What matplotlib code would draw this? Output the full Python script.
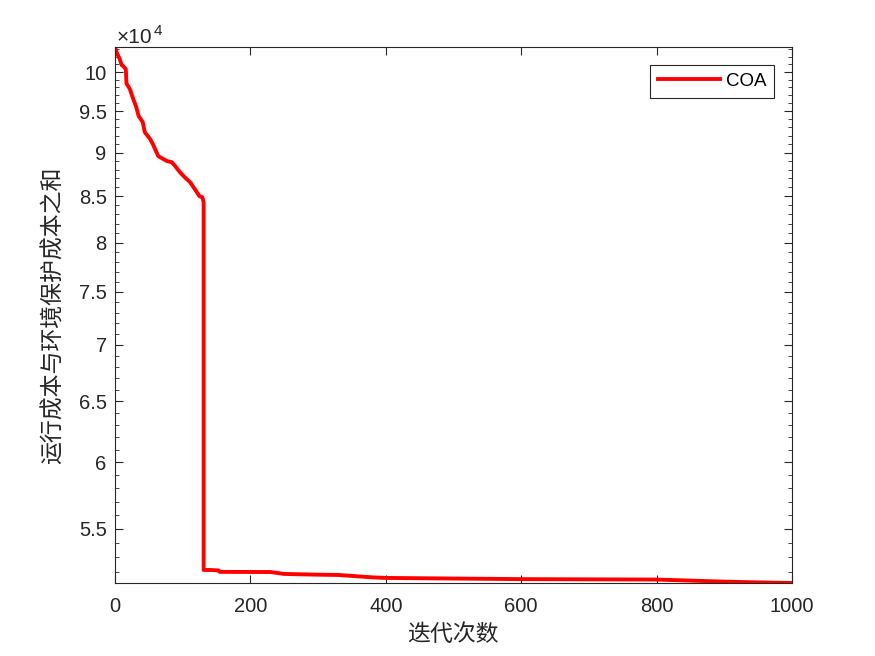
import matplotlib.pyplot as plt
from matplotlib.ticker import FixedLocator, MultipleLocator, FuncFormatter, NullFormatter

plt.rcParams['font.family'] = ['Liberation Sans', 'Noto Sans CJK SC', 'DejaVu Sans']

# iteration / cost
iters = [0, 3, 7, 10, 12, 16, 17, 22, 27, 31, 35, 41, 44, 52, 56, 64, 77, 84,
         89, 96, 103, 111, 118, 125, 129, 131, 131, 140, 153, 155, 230, 250,
         300, 330, 380, 400, 600, 800, 850, 900, 950, 1000]
cost = [103330, 102500, 101720, 100900, 100790, 100390, 98500, 97800, 96520,
        95640, 94400, 93660, 92440, 91590, 90990, 89570, 88990, 88870, 88410,
        87710, 87140, 86570, 85780, 84990, 84900, 84330, 52120, 52120, 52090,
        51990, 51980, 51850, 51800, 51780, 51620, 51580, 51500, 51470, 51400,
        51330, 51280, 51240]

major_y = [55000, 60000, 65000, 70000, 75000, 80000, 85000, 90000, 95000, 100000]
x_ticks = [0, 200, 400, 600, 800, 1000]

ax_col = '#262626'

fig = plt.figure(figsize=(8.75, 6.56), dpi=100)
ax = fig.add_axes([0.1314, 0.1113, 0.7737, 0.8171])
ax.plot(iters, cost, color='red', linewidth=2.8, label='COA')
ax.set_yscale('log')
ax.set_xlim(0, 1000)
ax.set_ylim(min(cost), max(cost))

ax.yaxis.set_major_locator(FixedLocator(major_y))
ax.yaxis.set_major_formatter(FuncFormatter(lambda v, p: '%g' % (v / 1e4)))
ax.yaxis.set_minor_locator(MultipleLocator(1000))
ax.yaxis.set_minor_formatter(NullFormatter())
ax.set_xticks(x_ticks)

ax.tick_params(which='both', direction='in', top=True, right=True,
               colors=ax_col, labelsize=14.5, labelcolor=ax_col)
ax.tick_params(which='major', length=6, width=0.8)
ax.tick_params(axis='x', which='major', pad=10)
ax.tick_params(axis='y', which='major', pad=6)
ax.tick_params(which='minor', length=3, width=0.6)
for s in ax.spines.values():
    s.set_color(ax_col)
    s.set_linewidth(0.8)

ax.set_xlabel('迭代次数', fontsize=16.5, family=['Noto Sans CJK SC'], color=ax_col)
ax.set_ylabel('运行成本与环境保护成本之和', fontsize=16.5,
              family=['Noto Sans CJK SC'], color=ax_col)
ax.xaxis.set_label_coords(0.499, -0.075)
ax.yaxis.set_label_coords(-0.074, 0.5)

# exponent label above the y axis
fig.text(0.133, 0.9345, '×10', fontsize=15, color=ax_col, ha='left', va='baseline')
fig.text(0.176, 0.946, '4', fontsize=11, color=ax_col, ha='left', va='baseline')

leg = ax.legend(loc='upper right', fontsize=13.5, fancybox=False, framealpha=1,
                edgecolor=ax_col, borderaxespad=0.95, handlelength=3.3,
                handletextpad=0.3, borderpad=0.42)
leg.get_frame().set_linewidth(0.8)

fig.savefig('out.png', dpi=100)
